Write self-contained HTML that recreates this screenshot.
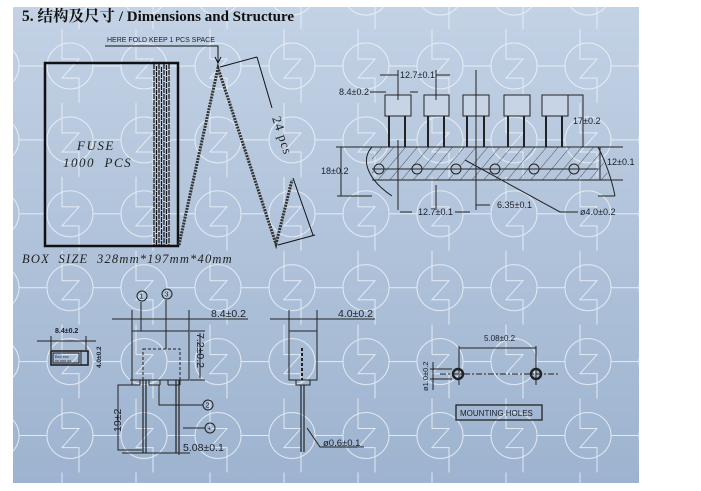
<!DOCTYPE html>
<html><head><meta charset="utf-8"><style>
html,body{margin:0;padding:0;background:#fff;}
svg{display:block;}
.t{font-family:"Liberation Sans",sans-serif;fill:#1a1f2a;}
</style></head><body>
<svg width="701" height="491" viewBox="0 0 701 491" xmlns="http://www.w3.org/2000/svg">
<defs>
<linearGradient id="bg" x1="0" y1="0" x2="0" y2="1">
<stop offset="0" stop-color="#c3d2e5"/><stop offset="1" stop-color="#9db3cf"/>
</linearGradient>
<pattern id="wm" patternUnits="userSpaceOnUse" x="33" y="29.05" width="74" height="73.9">
<g fill="none" stroke="#eef3fa" stroke-width="1" opacity="0.85">
<circle cx="37" cy="36.95" r="23"/>
<path d="M29 15.2 V30 H46 L29 49 H46 V58.7"/>
<path d="M0 36.95 H14 M60 36.95 H74"/>
<path d="M29 0 V15.2 M46 58.7 V73.9"/>
</g>
</pattern>
<pattern id="hatch" patternUnits="userSpaceOnUse" width="9" height="9" patternTransform="rotate(40)">
<line x1="0" y1="0" x2="0" y2="9" stroke="#333" stroke-width="0.8"/>
</pattern>
</defs>
<rect x="13" y="7" width="626" height="476" fill="url(#bg)"/>
<rect x="13" y="7" width="626" height="476" fill="url(#wm)"/>

<text x="22" y="21" font-family="Liberation Serif,'Noto Serif CJK SC',serif" font-weight="bold" font-size="15.5" fill="#111">5.  结构及尺寸  <tspan font-size="15">/ Dimensions and Structure</tspan></text>

<!-- box -->
<g stroke="#111" fill="none">
<text x="107" y="42" class="t" stroke="none" font-size="7">HERE FOLD KEEP 1 PCS SPACE</text>
<path d="M105 46 H218 V62" stroke-width="1"/>
<path d="M215 57 L218 63 L221 57" stroke-width="1"/>
<rect x="45" y="63" width="133" height="183" stroke-width="2.5"/>
<g stroke-width="1.2" stroke="#111" stroke-dasharray="5 1">
<path d="M154 64 V246 M156.5 66 V246 M159 64 V246 M161.5 67 V246 M164 64 V246 M166.5 65 V246 M169 64 V246"/>
</g>
<path d="M179 245 L218 68 L276 244 L292 180" stroke-width="3" stroke="#333" stroke-dasharray="2 1"/>
<path d="M220 67 L257 57 M257 57 L272 108 M293 178 L313 235 M278 245 L315 235" stroke-width="1"/>
</g>
<text x="77" y="150" font-family="Liberation Serif,serif" font-style="italic" font-size="13" letter-spacing="1.5" fill="#222">FUSE</text>
<text x="63" y="167" font-family="Liberation Serif,serif" font-style="italic" font-size="13" letter-spacing="1.5" fill="#222" xml:space="preserve">1000  PCS</text>
<text transform="translate(272,118) rotate(72)" font-family="Liberation Serif,serif" font-size="13" letter-spacing="1" fill="#222">24 pcs</text>
<text x="22" y="263" font-family="Liberation Serif,serif" font-style="italic" font-size="12.5" letter-spacing="1.2" fill="#222" xml:space="preserve">BOX  SIZE  328mm*197mm*40mm</text>

<!-- tape -->
<g stroke="#222" fill="none" stroke-width="1">
<path d="M372 147 H598 L610 180 H372 Z" fill="url(#hatch)" stroke="none"/>
<path d="M337 147 H623 M372 180 H623 M337 196 H372 M598 196 H615"/>
<path d="M372 147 C360 160 368 180 392 196 M598 147 C605 160 612 180 615 196"/>
<g fill="#b3c4da">
<circle cx="379" cy="169" r="5"/><circle cx="417" cy="169" r="5"/><circle cx="456" cy="169" r="5"/>
<circle cx="495" cy="169" r="5"/><circle cx="534" cy="169" r="5"/><circle cx="574" cy="169" r="5"/>
</g>
<path d="M372 169 H598"/>
<g fill="#c6d4e6">
<rect x="385" y="95" width="26" height="21"/><rect x="424" y="95" width="25" height="21"/><rect x="463" y="95" width="26" height="21"/><rect x="504" y="95" width="26" height="21"/><rect x="542" y="95" width="26" height="21"/>
</g>
<g stroke-width="2">
<path d="M389 116 V147 M405 116 V147 M428 116 V147 M444 116 V147 M467 116 V147 M484 116 V147 M508 116 V147 M524 116 V147 M546 116 V147 M562 116 V147"/>
</g>
<path d="M398 70 V100 M436 70 V100 M476 70 V200 M398 140 V210 M436 185 V210 M476 200 V210"/>
<path d="M380 75 H398 M436 75 H450 M370 92 H386 M410 92 H418"/>
<path d="M568 95 H583 V147 M580 147 H615 M600 147 V180 M341 147 V196 M336 147 H345"/>
<path d="M400 212 H412 M455 212 H470 M476 205 H490 M465 160 L560 212 H578"/>
</g>
<g class="t" font-size="9">
<text x="400" y="78">12.7±0.1</text>
<text x="339" y="95">8.4±0.2</text>
<text x="573" y="124">17±0.2</text>
<text x="321" y="174">18±0.2</text>
<text x="607" y="165">12±0.1</text>
<text x="418" y="215">12.7±0.1</text>
<text x="497" y="208">6.35±0.1</text>
<text x="580" y="215">ø4.0±0.2</text>
</g>

<!-- small top view -->
<g stroke="#222" fill="none" stroke-width="1">
<path d="M37 341 H96 M51 336 V350 M86 336 V350"/>
<rect x="51" y="351" width="37" height="14" stroke-width="1.6"/>
<rect x="53" y="353" width="26" height="10"/>
<path d="M81 351 V365"/>
</g>
<text x="55" y="333" class="t" font-size="7" font-weight="bold">8.4±0.2</text>
<text transform="translate(101,368) rotate(-90)" class="t" font-size="6.5" font-weight="bold">4.0±0.2</text>
<text x="55" y="358" class="t" font-size="4">Bxx xxx</text>
<text x="55" y="362" class="t" font-size="4">xx xxx xx</text>

<!-- front view -->
<g stroke="#222" fill="none" stroke-width="1">
<path d="M112 319 H248 M132 310 V331 M189 310 V331"/>
<rect x="132" y="331" width="57" height="49"/>
<rect x="143" y="349" width="37" height="31" stroke-dasharray="3 2"/>
<path d="M130 380 H189 M132 385 H140 M149 385 H160 M168 385 H180 M140 380 V385 M149 380 V385 M160 380 V385 M168 380 V385 M180 380 V385 M132 380 V385"/>
<path d="M190 331 H205 M190 380 H205 M200 333 V378"/>
<path d="M143 380 V453 M146 380 V453 M176 380 V453 M179 380 V453" stroke-width="1.2"/>
<path d="M141 302 V331 M166 300 V349"/>
<path d="M132 385 H118 V450 H142 M122 453 H190 M179 445 V455"/>
<path d="M159 385 V405 H203"/>
<path d="M183 428 H205"/>
<circle cx="142" cy="296" r="5"/><circle cx="167" cy="294" r="5"/>
<circle cx="208" cy="405" r="5"/><circle cx="210" cy="428" r="5"/>
</g>
<g class="t" font-size="7">
<text x="139.5" y="298.5">1</text><text x="164.5" y="296.5">3</text>
<text x="205.5" y="407.5">2</text><text x="207.5" y="430.5">+</text>
</g>
<text x="211" y="317" class="t" font-size="10.5">8.4±0.2</text>
<text transform="translate(197,333) rotate(90)" class="t" font-size="10.5">7.2±0.2</text>
<text transform="translate(121,432) rotate(-90)" class="t" font-size="10.5">19±2</text>
<text x="183" y="451" class="t" font-size="10.5">5.08±0.1</text>

<!-- side view -->
<g stroke="#222" fill="none" stroke-width="1">
<path d="M270 319 H375 M289 310 V331 M317 310 V331"/>
<rect x="289" y="331" width="28" height="49"/>
<path d="M302 348 V380" stroke-dasharray="3 2" stroke-width="2"/>
<rect x="296" y="380" width="14" height="5"/>
<path d="M301 385 V452 M304 385 V452" stroke-width="1.2"/>
<path d="M307 428 L320 447 H364"/>
</g>
<text x="338" y="317" class="t" font-size="10.5">4.0±0.2</text>
<text x="323" y="446" class="t" font-size="9.5">ø0.6±0.1</text>

<!-- mounting holes -->
<g stroke="#222" fill="none" stroke-width="1">
<path d="M459 348 H536 M459 346 V385 M536 346 V385"/>
<path d="M440 374 H560" stroke-dasharray="6 2 2 2"/>
<path d="M430 369 H452 M430 379 H452 M433 362 V390"/>
<circle cx="458" cy="374" r="5" stroke-width="2.4"/>
<circle cx="536" cy="374" r="5" stroke-width="2.4"/>
<rect x="456" y="405" width="86" height="15" stroke-width="1.3"/>
</g>
<text x="484" y="341" class="t" font-size="8">5.08±0.2</text>
<text transform="translate(428,391) rotate(-90)" class="t" font-size="7.5">ø1.0±0.2</text>
<text x="460" y="416" class="t" font-size="8">MOUNTING HOLES</text>
</svg>
</body></html>
